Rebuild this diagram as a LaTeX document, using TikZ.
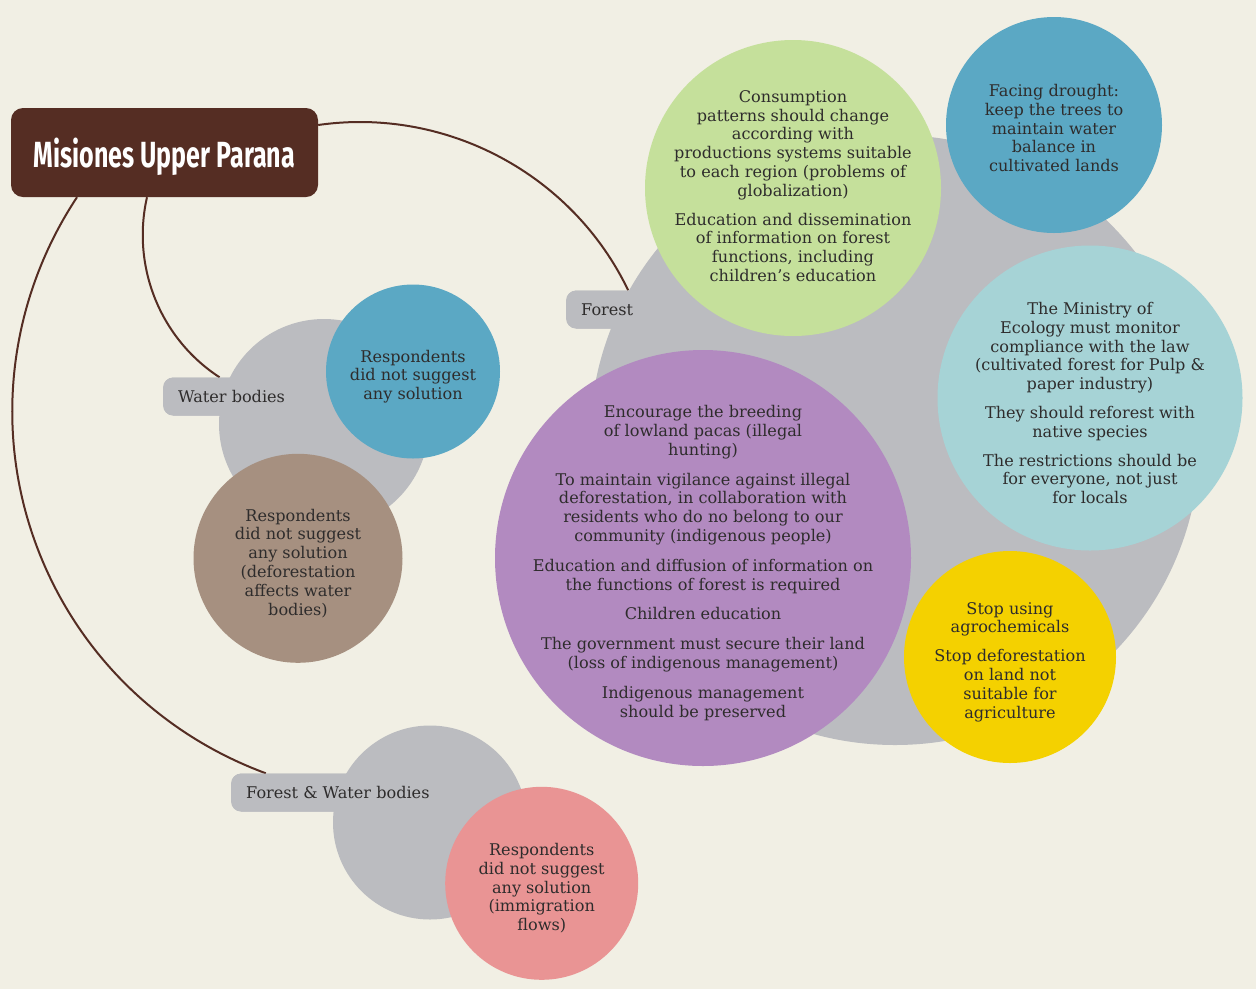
\documentclass[tikz,border=0pt]{standalone}
\usepackage{fontspec}
\usepackage{graphicx}
\setmainfont{DejaVu Serif}
\newfontfamily\titlefont{Fira Sans}

\definecolor{bgc}{HTML}{F1EFE4}
\definecolor{hubgrey}{HTML}{BBBCC0}
\definecolor{darkbrown}{HTML}{552D23}
\definecolor{txtc}{HTML}{2E2C2C}
\definecolor{leafgreen}{HTML}{C5E09B}
\definecolor{skyblue}{HTML}{5BA8C4}
\definecolor{paleteal}{HTML}{A6D3D6}
\definecolor{lilac}{HTML}{B28AC0}
\definecolor{sunyellow}{HTML}{F4D100}
\definecolor{claybrown}{HTML}{A69080}
\definecolor{rosepink}{HTML}{E99494}

\tikzset{
  bubble/.style={circle, inner sep=0pt, draw=none},
  hub/.style={bubble, fill=hubgrey},
  txt/.style={align=center, text=txtc, inner sep=0pt, yshift=-5pt,
    font=\fontsize{16.1}{18.8}\selectfont},
  lbl/.style={rectangle, rounded corners=10pt, fill=hubgrey, text=txtc,
    anchor=west, inner xsep=15pt, inner ysep=0pt, minimum height=38pt,
    font=\fontsize{16.1}{18.8}\selectfont},
  link/.style={draw=darkbrown, line width=2pt},
  titlebox/.style={rectangle, rounded corners=12pt, fill=darkbrown,
    text=white, minimum width=307pt, minimum height=89pt, inner sep=0pt,
    text depth=0pt}
}

\begin{document}
\begin{tikzpicture}[x=1pt, y=-1pt]
\fill[bgc] (0,0) rectangle (1256,989);
\useasboundingbox (0,0) rectangle (1256,989);

% title
\node[titlebox] (title) at (164.5,152.5)
  {\resizebox{261pt}{29.5pt}{\titlefont\bfseries Misiones Upper Parana}};

% category labels (drawn first so their hubs cover the joins)
\path (566,309.5) node[lbl] (forestlbl) {Forest};
\path (163,396.5) node[lbl] (waterlbl) {Water bodies};
\path (231,792.5) node[lbl] (fwlbl) {Forest \& Water bodies};

% connectors from the title to each category
\draw[link] ([yshift=27.5pt]title.east)
  .. controls (446.6,106.6) and (572.7,174.5) .. ([xshift=21pt]forestlbl.north);
\draw[link] ([xshift=-17.5pt]title.south)
  .. controls (131.2,266.6) and (160.3,338.8) .. ([xshift=-12pt]waterlbl.north);
\draw[link] ([xshift=-87.5pt]title.south)
  .. controls (12.1,295.3) and (-5.4,417.2) .. (30.8,529.3)
  .. controls (67,641.4) and (151.9,731.2) .. ([xshift=-72pt]fwlbl.north);

% grey hubs
\node[hub, minimum size=610pt] (forest) at (895,440) {};
\node[hub, minimum size=210pt] (water) at (324,424) {};
\node[hub, minimum size=194pt] (fw) at (430,822.5) {};

% labels on top of hubs
\path (566,309.5) node[lbl] {Forest};
\path (163,396.5) node[lbl] {Water bodies};
\path (231,792.5) node[lbl] {Forest \& Water bodies};

% forest bubbles
\node[bubble, fill=leafgreen, minimum size=296pt] (g) at (793,188) {};
\node[txt, yshift=7pt] at (g) {Consumption\\ patterns should change\\ according with\\
  productions systems suitable\\ to each region (problems of\\ globalization)\\[10pt]
  Education and dissemination\\ of information on forest\\ functions, including\\
  children's education};

\node[bubble, fill=skyblue, minimum size=216pt] (b) at (1054,125) {};
\node[txt, yshift=2pt] at (b) {Facing drought:\\ keep the trees to\\ maintain water\\ balance in\\
  cultivated lands};

\node[bubble, fill=paleteal, minimum size=305pt] (t) at (1090,398) {};
\node[txt] at (t) {The Ministry of\\ Ecology must monitor\\ compliance with the law\\
  (cultivated forest for Pulp \&\\ paper industry)\\[10pt]
  They should reforest with\\ native species\\[10pt]
  The restrictions should be\\ for everyone, not just\\ for locals};

\node[bubble, fill=lilac, minimum size=416pt] (p) at (703,558) {};
\node[txt] at (p) {Encourage the breeding\\ of lowland pacas (illegal\\ hunting)\\[11pt]
  To maintain vigilance against illegal\\ deforestation, in collaboration with\\
  residents who do no belong to our\\ community (indigenous people)\\[11pt]
  Education and diffusion of information on\\ the functions of forest is required\\[11pt]
  Children education\\[11pt]
  The government must secure their land\\ (loss of indigenous management)\\[11pt]
  Indigenous management\\ should be preserved};

\node[bubble, fill=sunyellow, minimum size=212pt] (y) at (1010,657) {};
\node[txt] at (y) {Stop using\\ agrochemicals\\[10pt] Stop deforestation\\ on land not\\
  suitable for\\ agriculture};

% water bodies bubbles
\node[bubble, fill=skyblue, minimum size=174pt] (wb) at (413,371.5) {};
\node[txt] at (wb) {Respondents\\ did not suggest\\ any solution};

\node[bubble, fill=claybrown, minimum size=209pt] (wc) at (298,558.3) {};
\node[txt] at (wc) {Respondents\\ did not suggest\\ any solution\\ (deforestation\\
  affects water\\ bodies)};

% forest & water bodies bubble
\node[bubble, fill=rosepink, minimum size=193pt] (fp) at (541.7,883.3) {};
\node[txt] at (fp) {Respondents\\ did not suggest\\ any solution\\ (immigration\\ flows)};
\end{tikzpicture}
\end{document}
